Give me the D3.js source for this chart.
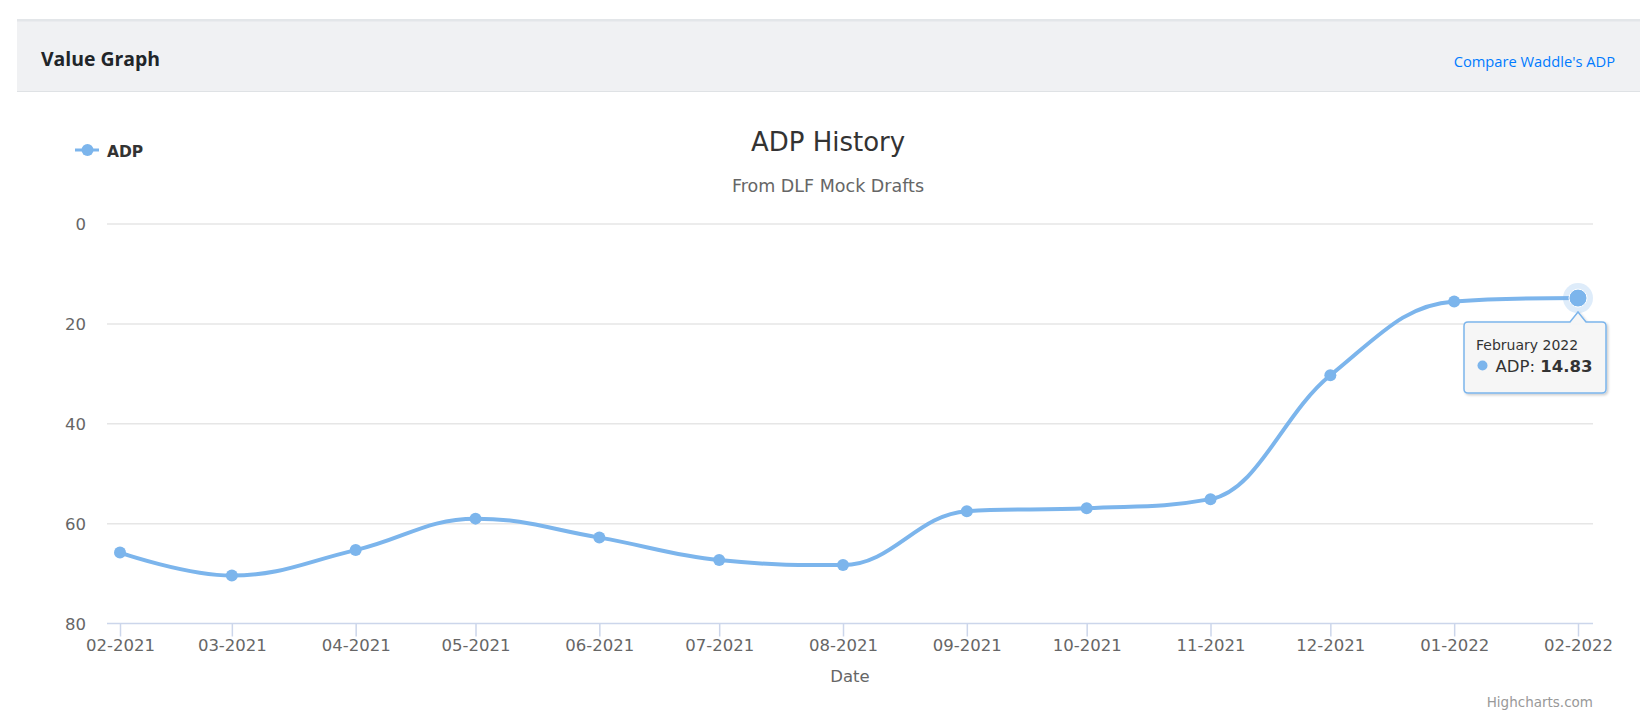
<!DOCTYPE html>
<html>
<head>
<meta charset="utf-8">
<script src="https://cdn.jsdelivr.net/npm/d3@7"></script>
<style>
  body { margin: 0; background: #fff; }
  text { font-family: "DejaVu Sans", sans-serif; }
</style>
</head>
<body>
<svg id="chart" width="1648" height="720"></svg>
<script>
// ADP by month
const months = ["2021-02-01", "2021-03-01", "2021-04-01", "2021-05-01", "2021-06-01", "2021-07-01",
  "2021-08-01", "2021-09-01", "2021-10-01", "2021-11-01", "2021-12-01", "2022-01-01", "2022-02-01"];
const adp = [65.8, 70.4, 65.3, 59.0, 62.8, 67.3, 68.3, 57.5, 56.9, 55.1, 30.3, 15.5, 14.83];
const yTicks = [0, 20, 40, 60, 80];
const seriesName = "ADP";
const hoverIndex = 12;
const hoverLabel = "February 2022";

const color = "#7cb5ec";
const svg = d3.select("#chart");
const parse = d3.utcParse("%Y-%m-%d");
const data = months.map((m, i) => ({ date: parse(m), value: adp[i] }));

const plot = { left: 107, right: 1593, top: 224, bottom: 623.5 };
const x = d3.scaleUtc().domain(d3.extent(data, d => d.date)).range([120, 1578]);
const y = d3.scaleLinear().domain([0, 80]).range([plot.top, plot.bottom]);

// header panel
svg.append("rect").attr("x", 17).attr("y", 19).attr("width", 1623).attr("height", 72).attr("fill", "#f0f1f3");
svg.append("rect").attr("x", 17).attr("y", 19).attr("width", 1623).attr("height", 2.5).attr("fill", "#e3e6e9");
svg.append("line").attr("x1", 17).attr("x2", 1640).attr("y1", 91.5).attr("y2", 91.5)
  .attr("stroke", "#dfe2e5").attr("stroke-width", 1);
svg.append("text").attr("x", 41).attr("y", 66).text("Value Graph")
  .style("font-family", "'Open Sans', sans-serif").style("font-weight", 700)
  .style("font-size", "19.4px").attr("fill", "#212529");
svg.append("text").attr("x", 1615).attr("y", 67).attr("text-anchor", "end").text("Compare Waddle's ADP")
  .style("font-family", "'Open Sans', sans-serif").style("font-size", "14.7px").attr("fill", "#007bff");

// titles
svg.append("text").attr("x", 828).attr("y", 150.5).attr("text-anchor", "middle").text("ADP History")
  .style("font-size", "26px").attr("fill", "#333333");
svg.append("text").attr("x", 828).attr("y", 192).attr("text-anchor", "middle").text("From DLF Mock Drafts")
  .style("font-size", "17.5px").attr("fill", "#666666");

// legend
const legend = svg.append("g");
legend.append("line").attr("x1", 75).attr("x2", 99).attr("y1", 150).attr("y2", 150)
  .attr("stroke", color).attr("stroke-width", 3);
legend.append("circle").attr("cx", 87.5).attr("cy", 150).attr("r", 6).attr("fill", color);
legend.append("text").attr("x", 107).attr("y", 156.5).text(seriesName)
  .style("font-size", "15.5px").style("font-weight", "bold").attr("fill", "#333333");

// grid + y labels
svg.append("g").selectAll("line").data(yTicks.slice(0, -1)).join("line")
  .attr("x1", plot.left).attr("x2", plot.right)
  .attr("y1", d => y(d)).attr("y2", d => y(d))
  .attr("stroke", "#e6e6e6").attr("stroke-width", 1.5);
svg.append("g").selectAll("text").data(yTicks).join("text")
  .attr("x", 86).attr("y", d => y(d) + 6).attr("text-anchor", "end")
  .text(d => d).style("font-size", "16.5px").attr("fill", "#666666");

// x axis
const xAxis = svg.append("g").attr("transform", `translate(0,${plot.bottom})`)
  .call(d3.axisBottom(x).tickValues(data.map(d => d.date))
    .tickFormat(d3.utcFormat("%m-%Y")).tickSize(13).tickSizeOuter(0).tickPadding(3));
xAxis.select(".domain").remove();
xAxis.selectAll(".tick line").attr("stroke", "#ccd6eb").attr("stroke-width", 1.5);
xAxis.selectAll(".tick text").style("font-size", "16.5px").attr("fill", "#666666")
  .style("font-family", "'DejaVu Sans', sans-serif");
svg.append("line").attr("x1", plot.left).attr("x2", plot.right)
  .attr("y1", plot.bottom).attr("y2", plot.bottom).attr("stroke", "#ccd6eb").attr("stroke-width", 1.5);
svg.append("text").attr("x", (plot.left + plot.right) / 2).attr("y", 682).attr("text-anchor", "middle")
  .text("Date").style("font-size", "16.5px").attr("fill", "#666666");

// Highcharts-style spline
function splinePath(pts) {
  const smoothing = 1.5, denom = smoothing + 1;
  pts.forEach(p => { p.lcx = p.x; p.lcy = p.y; p.rcx = p.x; p.rcy = p.y; });
  for (let i = 1; i < pts.length - 1; i++) {
    const a = pts[i - 1], b = pts[i], c = pts[i + 1];
    let lx = (smoothing * b.x + a.x) / denom, ly = (smoothing * b.y + a.y) / denom;
    let rx = (smoothing * b.x + c.x) / denom, ry = (smoothing * b.y + c.y) / denom;
    let corr = 0;
    if (rx !== lx) corr = ((ry - ly) * (rx - b.x)) / (rx - lx) + b.y - ry;
    ly += corr; ry += corr;
    if (ly > a.y && ly > b.y) { ly = Math.max(a.y, b.y); ry = 2 * b.y - ly; }
    else if (ly < a.y && ly < b.y) { ly = Math.min(a.y, b.y); ry = 2 * b.y - ly; }
    if (ry > c.y && ry > b.y) { ry = Math.max(c.y, b.y); ly = 2 * b.y - ry; }
    else if (ry < c.y && ry < b.y) { ry = Math.min(c.y, b.y); ly = 2 * b.y - ry; }
    b.lcx = lx; b.lcy = ly; b.rcx = rx; b.rcy = ry;
  }
  const p = d3.path();
  p.moveTo(pts[0].x, pts[0].y);
  for (let i = 1; i < pts.length; i++) {
    p.bezierCurveTo(pts[i - 1].rcx, pts[i - 1].rcy, pts[i].lcx, pts[i].lcy, pts[i].x, pts[i].y);
  }
  return p.toString();
}

const pts = data.map(d => ({ x: x(d.date), y: y(d.value) }));
svg.append("path").attr("d", splinePath(pts)).attr("fill", "none")
  .attr("stroke", color).attr("stroke-width", 4).attr("stroke-linejoin", "round").attr("stroke-linecap", "round");

svg.append("g").selectAll("circle").data(data.filter((d, i) => i !== hoverIndex)).join("circle")
  .attr("cx", d => x(d.date)).attr("cy", d => y(d.value)).attr("r", 6).attr("fill", color);

// hovered point
const hp = data[hoverIndex];
const hx = x(hp.date), hy = y(hp.value);
svg.append("circle").attr("cx", hx).attr("cy", hy).attr("r", 15).attr("fill", color).attr("fill-opacity", 0.25);
svg.append("circle").attr("cx", hx).attr("cy", hy).attr("r", 9).attr("fill", color)
  .attr("stroke", "#ffffff").attr("stroke-width", 1);

// tooltip
const defs = svg.append("defs");
const f = defs.append("filter").attr("id", "tshadow").attr("x", "-10%").attr("y", "-10%").attr("width", "130%").attr("height", "140%");
f.append("feDropShadow").attr("dx", 1.5).attr("dy", 1.5).attr("stdDeviation", 1.2)
  .attr("flood-color", "#000").attr("flood-opacity", 0.2);

const tip = { x0: hx - 114, x1: hx + 28, y0: hy + 24, y1: hy + 95, r: 4, tipY: hy + 14 };
const tp = d3.path();
tp.moveTo(tip.x0 + tip.r, tip.y0);
tp.lineTo(hx - 8, tip.y0);
tp.lineTo(hx, tip.tipY);
tp.lineTo(hx + 8, tip.y0);
tp.lineTo(tip.x1 - tip.r, tip.y0);
tp.quadraticCurveTo(tip.x1, tip.y0, tip.x1, tip.y0 + tip.r);
tp.lineTo(tip.x1, tip.y1 - tip.r);
tp.quadraticCurveTo(tip.x1, tip.y1, tip.x1 - tip.r, tip.y1);
tp.lineTo(tip.x0 + tip.r, tip.y1);
tp.quadraticCurveTo(tip.x0, tip.y1, tip.x0, tip.y1 - tip.r);
tp.lineTo(tip.x0, tip.y0 + tip.r);
tp.quadraticCurveTo(tip.x0, tip.y0, tip.x0 + tip.r, tip.y0);
tp.closePath();
svg.append("path").attr("d", tp.toString()).attr("fill", "rgba(247,247,247,0.95)")
  .attr("stroke", color).attr("stroke-width", 1.5).attr("filter", "url(#tshadow)");

svg.append("text").attr("x", tip.x0 + 12).attr("y", hy + 51.5).text(hoverLabel)
  .style("font-size", "14px").attr("fill", "#333333");
svg.append("circle").attr("cx", tip.x0 + 18.5).attr("cy", hy + 67.5).attr("r", 5).attr("fill", color);
const t2 = svg.append("text").attr("x", tip.x0 + 31.5).attr("y", hy + 73.5)
  .style("font-size", "16.5px").attr("fill", "#333333");
t2.append("tspan").text(seriesName + ": ");
t2.append("tspan").style("font-weight", "bold").text(d3.format(".2f")(hp.value));

// credits
svg.append("text").attr("x", 1593).attr("y", 707).attr("text-anchor", "end").text("Highcharts.com")
  .style("font-size", "13.5px").attr("fill", "#999999");
</script>
</body>
</html>
